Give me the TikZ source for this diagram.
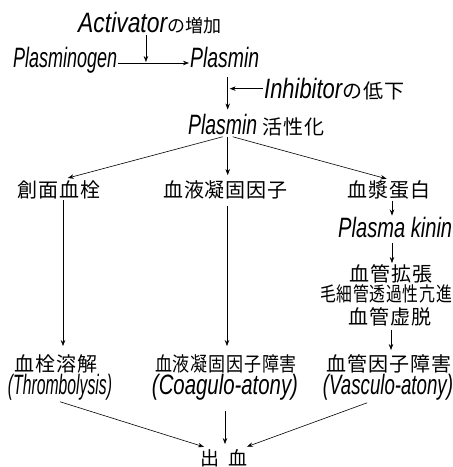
\documentclass[tikz,border=0pt]{standalone}
\usepackage{fontspec}
\usepackage{graphicx}
\usetikzlibrary{arrows.meta,calc}
\newfontfamily\latf{Liberation Sans}
\newfontfamily\cjkf{Noto Sans CJK JP}[LetterSpace=5]
\newfontfamily\cjkn{Noto Sans CJK JP}
\newcommand\LT[2]{\resizebox{#1pt}{1.12\height}{\latf\itshape\fontsize{25}{28}\selectfont #2}}
\newcommand\JP[1]{{\cjkf\fontsize{20}{23}\selectfont #1}}
\newcommand\JN[1]{{\cjkn\fontsize{18}{21}\selectfont #1}}
\newcommand\JS[2]{\resizebox{#1pt}{\height}{\cjkf\fontsize{20}{23}\selectfont #2}}
\tikzset{
  lbl/.style={inner sep=1pt},
  arr/.style={-{Stealth[length=6pt,width=4.5pt]}, line width=0.6pt}
}
\begin{document}
\begin{tikzpicture}[x=1pt,y=-1pt]
\useasboundingbox (0,0) rectangle (453,467);
% top part
\node[lbl, anchor=base west] (act) at (77,32) {\LT{89}{Activator}\JN{の増加}};
\node[lbl, anchor=base west] (pg) at (12,67) {\LT{104}{Plasminogen}};
\node[lbl, anchor=base west] (pl) at (189,67) {\LT{69}{Plasmin}};
\node[lbl, anchor=base west] (inh) at (263,98) {\LT{78}{Inhibitor}\JP{の低下}};
\node[lbl, anchor=base west] (pa) at (187,134) {\LT{69}{Plasmin}\hspace{5pt}\JP{活性化}};
% columns
\node[lbl] (c1) at (59,190) {\JP{創面血栓}};
\node[lbl] (c2) at (225.5,190) {\JP{血液凝固因子}};
\node[lbl] (c3) at (389,190) {\JP{血漿蛋白}};
\node[lbl, anchor=base west] (pk) at (337,237) {\LT{114}{Plasma kinin}};
\node[lbl] (r1) at (391,273.5) {\JP{血管拡張}};
\node[lbl] (r2) at (386,294) {\JS{132}{毛細管透過性亢進}};
\node[lbl] (r3) at (390,317) {\JP{血管虚脱}};
\node[lbl] (t1) at (56,363.5) {\JP{血栓溶解}};
\node[lbl] (t2) at (226,363.5) {\JS{142}{血液凝固因子障害}};
\node[lbl] (t3) at (389,363.5) {\JP{血管因子障害}};
\node[lbl] (th) at (60,387.5) {\LT{104}{(Thrombolysis)}};
\node[lbl] (co) at (225,387.5) {\LT{146}{(Coagulo-atony)}};
\node[lbl] (va) at (388,387.5) {\LT{130}{(Vasculo-atony)}};
\node[lbl] (bl) at (224,458) {{\cjkn\fontsize{19}{22}\selectfont 出\hspace{10pt}血}};
% connectors
\path ($(pg.base east)!0.39!(pl.base west)$) ++(0,-4) coordinate (m1);
\draw[arr] ([yshift=4pt]pg.base east) -- ([yshift=4pt]pl.base west);
\draw[arr, shorten >=1pt] (act.south -| m1) -- (m1);
\coordinate (vtop) at ([xshift=3pt]pl.south);
\draw[arr, shorten <=9pt, shorten >=3pt] (vtop) -- (vtop |- pa.north);
\draw[arr, shorten >=2pt] (inh.west) -- (inh.west -| vtop);
\coordinate (br) at (pa.south -| vtop);
\draw[arr, shorten >=6pt] ([xshift=-5pt]br) -- ([xshift=3pt]c1.north);
\draw[arr, shorten >=4.5pt] (br) -- (br |- c2.north);
\draw[arr, shorten >=2.5pt] ([xshift=5pt]br) -- (c3.north);
\draw[arr, shorten >=7pt] ([xshift=4pt]c1.south) -- ([xshift=4pt]c1.south |- t1.north);
\draw[arr, shorten <=6pt, shorten >=7pt] ([xshift=1.5pt]c2.south) -- ([xshift=1.5pt]c2.south |- t2.north);
\draw[arr] ([xshift=3pt]c3.south) -- ([xshift=3pt]c3.south |- pk.north);
\draw[arr, shorten <=5pt] ([xshift=1pt]pk.south -| r1.south) -- ([xshift=1pt]r1.north);
\draw[arr, shorten <=3pt, shorten >=3pt] ([xshift=1pt]r3.south) -- ([xshift=1pt]r3.south |- t3.north);
\draw[arr, shorten >=4pt] (th.south) -- ([xshift=9pt]bl.north west);
\draw[arr, shorten <=9pt, shorten >=4pt] (co.south) -- (co.south |- bl.north);
\draw[arr, shorten <=3pt, shorten >=4pt] ([xshift=-18pt]va.south) -- ([xshift=-6pt]bl.north east);
\end{tikzpicture}
\end{document}
